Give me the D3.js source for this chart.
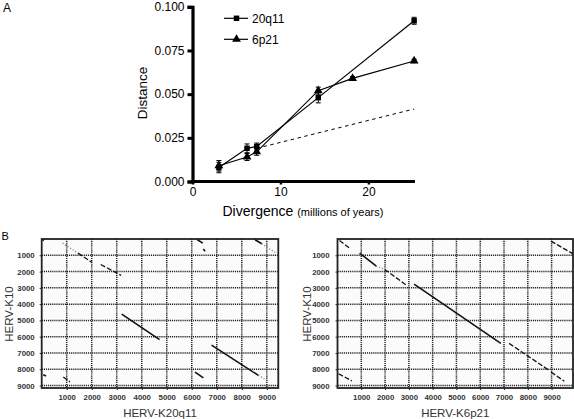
<!DOCTYPE html>
<html><head><meta charset="utf-8">
<script src="https://cdn.jsdelivr.net/npm/d3@7"></script>
<style>body{margin:0;background:#fff}svg{display:block}text{font-family:"Liberation Sans",Arial,sans-serif}</style>
</head><body><svg id="c" width="574" height="419"></svg>
<script>
// ---- Panel A data ----
const divergence20 = [3, 6.2, 7.3, 14.3, 25.2];
const distance20   = [0.008, 0.019, 0.020, 0.048, 0.092];
const err20        = [0.003, 0.0025, 0.002, 0.003, 0.002];
const divergence6  = [3, 6.2, 7.3, 14.3, 18.2, 25.2];
const distance6    = [0.009, 0.014, 0.017, 0.052, 0.059, 0.069];
const err6         = [0.003, 0.002, 0.002, 0.002, 0.001, 0.001];
const neutralX     = [7.3, 25.2];
const neutralY     = [0.019, 0.0415];
const yTicksA      = [0, 0.025, 0.05, 0.075, 0.1];
const xTicksA      = [0, 10, 20];
const seriesNames  = ["20q11", "6p21"];

// ---- Panel B data: dot-plot match segments [x1, y1, x2, y2, style] ----
const dotTicks = [1000,2000,3000,4000,5000,6000,7000,8000,9000];
const segsK20 = [
  [840,255,1450,870,"dot"],[1450,870,2000,1424,"dash"],
  [2360,1564,3172,2230,"dash"],
  [3200,4618,4712,6182,"solid"],
  [6792,6515,8664,8376,"solid"],[8664,8376,9000,8680,"dot"],
  [6132,8170,6464,8533,"solid"],
  [864,8473,1132,8776,"dash"],
  [64,8333,172,8412,"solid"],
  [6224,48,6440,255,"solid"],[6464,618,6532,758,"solid"],
  [8532,48,8800,290,"solid"],[8800,290,9400,897,"dot"],
  [30,40,90,90,"solid"]
];
const segsK6 = [
  [84,91,506,558,"dash"],
  [928,861,1633,1667,"solid"],[1633,1667,1983,1867,"dot"],
  [1983,1867,2899,2836,"dash"],
  [3219,2776,6865,6412,"solid"],
  [7215,6412,8903,8073,"dash"],
  [8975,8170,9536,8739,"dash"],
  [8975,133,9886,897,"dash"],
  [42,8273,603,8715,"dash"]
];

const svg = d3.select("#c");

// ================= Panel A =================
const x = d3.scaleLinear().domain([0, 25.3]).range([192.5, 415]);
const y = d3.scaleLinear().domain([0, 0.1]).range([181.5, 6.8]);

svg.append("text").attr("x",3).attr("y",12).attr("font-size",12).text("A");

const gA = svg.append("g");
const yAx = gA.append("g").attr("transform",`translate(${x(0)},0)`)
  .call(d3.axisLeft(y).tickValues(yTicksA).tickFormat(d3.format(".3f")).tickSize(5).tickPadding(3));
yAx.selectAll("path").attr("stroke","#000").attr("stroke-width",3.2);
yAx.selectAll("line").attr("stroke","#000").attr("stroke-width",3);
yAx.selectAll("text").attr("font-size",12).attr("fill","#000").attr("font-family","Liberation Sans, Arial");
const xAx = gA.append("g").attr("transform",`translate(0,${y(0)})`)
  .call(d3.axisBottom(x).tickValues(xTicksA).tickSize(3).tickPadding(3));
xAx.selectAll("path").attr("stroke","#000").attr("stroke-width",3.2).attr("d",`M${x(0)-1.6},0H${x(25.3)}`);
xAx.selectAll("line").attr("stroke","#000").attr("stroke-width",2.5);
xAx.selectAll("text").attr("font-size",12).attr("fill","#000").attr("font-family","Liberation Sans, Arial");

svg.append("text").attr("transform","translate(147,93) rotate(-90)").attr("text-anchor","middle")
  .attr("font-size",13.5).text("Distance");
const xt = svg.append("text").attr("x",222.5).attr("y",215.5).attr("font-size",14);
xt.append("tspan").text("Divergence ");
xt.append("tspan").attr("font-size",11).text("(millions of years)");

svg.append("path").attr("d", d3.line()(neutralX.map((d,i)=>[x(d), y(neutralY[i])])))
  .attr("stroke","#000").attr("stroke-width",1).attr("stroke-dasharray","3.5,3.5").attr("fill","none");

const line = d3.line();
function series(xs, ys, es, shape) {
  const g = svg.append("g");
  g.append("path").attr("d", line(xs.map((d,i)=>[x(d), y(ys[i])])))
    .attr("stroke","#000").attr("stroke-width",1.2).attr("fill","none");
  xs.forEach((d,i)=>{
    const cx = x(d), t = y(ys[i]+es[i]), b = y(ys[i]-es[i]);
    g.append("path").attr("d",`M${cx},${t}V${b}M${cx-2.5},${t}H${cx+2.5}M${cx-2.5},${b}H${cx+2.5}`)
      .attr("stroke","#000").attr("stroke-width",1);
  });
  g.selectAll("path.m").data(xs).join("path").attr("class","m")
    .attr("transform",(d,i)=>`translate(${x(d)},${y(ys[i])})`)
    .attr("d", d3.symbol().type(shape).size(shape===d3.symbolSquare?30:34)())
    .attr("fill","#000");
}
series(divergence20, distance20, err20, d3.symbolSquare);
series(divergence6, distance6, err6, d3.symbolTriangle);

const legY = [18.3, 39.3];
const legShapes = [d3.symbolSquare, d3.symbolTriangle];
seriesNames.forEach((n,i)=>{
  svg.append("line").attr("x1",224).attr("x2",248).attr("y1",legY[i]).attr("y2",legY[i])
    .attr("stroke","#000").attr("stroke-width",1.2);
  svg.append("path").attr("transform",`translate(236.5,${legY[i]})`)
    .attr("d", d3.symbol().type(legShapes[i]).size(i===0?30:34)()).attr("fill","#000");
  svg.append("text").attr("x",252).attr("y",legY[i]+4.3).attr("font-size",12).text(n);
});

// ================= Panel B =================
svg.append("text").attr("x",1.5).attr("y",239.5).attr("font-size",11).text("B");

function dotplot(x0, x1, xmax, segs, xTitle, yTitleX, labelPad) {
  const sx = d3.scaleLinear().domain([0, xmax]).range([x0, x1]);
  const sy = d3.scaleLinear().domain([0, 9150]).range([239, 388]);
  const g = svg.append("g");
  g.append("rect").attr("x",x0).attr("y",239).attr("width",x1-x0).attr("height",149).attr("fill","#fbfbfb");
  g.selectAll("line.gv").data(dotTicks).join("line").attr("class","gv")
    .attr("x1",d=>sx(d)).attr("x2",d=>sx(d)).attr("y1",239).attr("y2",388)
    .attr("stroke","#222").attr("stroke-width",1.5).attr("stroke-dasharray","1.2,0.9");
  g.selectAll("line.gh").data(dotTicks).join("line").attr("class","gh")
    .attr("y1",d=>sy(d)).attr("y2",d=>sy(d)).attr("x1",x0).attr("x2",x1)
    .attr("stroke","#222").attr("stroke-width",1.5).attr("stroke-dasharray","1.2,0.9");
  g.append("rect").attr("x",x0).attr("y",239).attr("width",x1-x0).attr("height",149)
    .attr("fill","none").attr("stroke","#222").attr("stroke-width",1.8);
  const ax = g.append("g").attr("transform",`translate(0,388)`)
    .call(d3.axisBottom(sx).tickValues(dotTicks).tickFormat(d3.format("d")).tickSize(2).tickPadding(4));
  ax.select("path").remove();
  ax.selectAll("line").attr("stroke","#222");
  ax.selectAll("text").attr("font-size",7.8).attr("font-weight","bold").attr("fill","#333")
    .attr("font-family","Liberation Sans, Arial");
  const ay = g.append("g").attr("transform",`translate(${x0},0)`)
    .call(d3.axisLeft(sy).tickValues(dotTicks).tickFormat(d3.format("d")).tickSize(2).tickPadding(labelPad));
  ay.select("path").remove();
  ay.selectAll("line").attr("stroke","#222");
  ay.selectAll("text").attr("font-size",7.8).attr("font-weight","bold").attr("fill","#333")
    .attr("font-family","Liberation Sans, Arial");
  g.selectAll("line.s").data(segs).join("line").attr("class","s")
    .attr("x1",d=>sx(d[0])).attr("y1",d=>sy(d[1])).attr("x2",d=>sx(d[2])).attr("y2",d=>sy(d[3]))
    .attr("stroke",d=>d[4]==="dot"?"#777":"#111")
    .attr("stroke-width",d=>d[4]==="solid"?1.6:1.3)
    .attr("stroke-dasharray",d=>d[4]==="dash"?"5,2":d[4]==="dot"?"1,2":null);
  svg.append("text").attr("x",(x0+x1)/2).attr("y",417).attr("text-anchor","middle")
    .attr("font-size",11.5).attr("fill","#333").text(xTitle);
  svg.append("text").attr("transform",`translate(${yTitleX},314) rotate(-90)`).attr("text-anchor","middle")
    .attr("font-size",11.5).attr("fill","#333").text("HERV-K10");
}
dotplot(41.7, 278.3, 9460, segsK20, "HERV-K20q11", 13, 5);
dotplot(337.5, 573, 9900, segsK6, "HERV-K6p21", 310.5, 6);
</script></body></html>
